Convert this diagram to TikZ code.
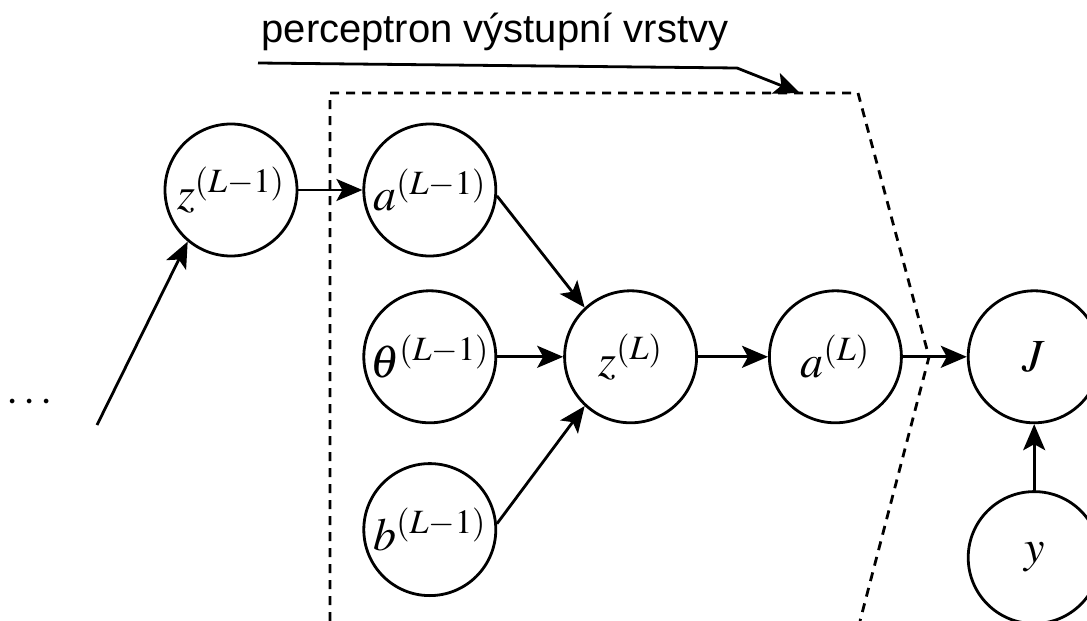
\documentclass[tikz,border=0pt]{standalone}
\usepackage[no-math]{fontspec}
\newfontfamily\labelfont{Liberation Sans}
\usepackage{mathptmx}
\usepackage{tikz}
\usetikzlibrary{arrows.meta,positioning}

\begin{document}
\begin{tikzpicture}[
  x=0.5pt,y=-0.5pt,
  neuron/.style={draw,circle,line width=1.4pt,minimum size=66pt,inner sep=0pt,
                 font=\fontsize{23}{28}\selectfont},
  arr/.style={-{Stealth[length=13pt,width=11pt,inset=3pt]},line width=1.4pt},
  border/.style={dashed,line width=1.4pt,dash pattern=on 4.5pt off 3.5pt},
  node distance=33pt
]
\useasboundingbox (0,0) rectangle (1087,621);
% vstupni cast
\node[neuron] (zprev) at (231,190) {$z^{(L-1)}$};
\node[neuron,right=32pt of zprev] (aprev) {$a^{(L-1)}$};
\node[neuron,below=16pt of aprev] (theta) {$\theta^{(L-1)}$};
\node[neuron,below=19pt of theta] (bprev) {$b^{(L-1)}$};
\node[neuron,right=33pt of theta] (zL) {$z^{(L)}$};
\node[neuron,right=35pt of zL] (aL) {$a^{(L)}$};
\node[neuron,right=32pt of aL] (J) {$J$};
\node[neuron,below=33pt of J] (y) {$y$};
\node[font=\fontsize{22}{26}\selectfont] (dots) at (30,403) {$\cdots$};
\coordinate (tail) at (97,425);
% hranice perceptronu
\coordinate (bl) at (330,621);
\coordinate (tl) at (330,93);
\coordinate (tr) at (858,93);
\coordinate (mid) at (929,357);
\coordinate (br) at (860,621);
\draw[border] (bl) -- (tl) -- (tr) -- (mid) -- (br);
% popisek
\node[font=\labelfont\fontsize{20}{24}\selectfont] (title) at (495,32) {perceptron výstupní vrstvy};
\coordinate (ptrstart) at (258,63);
\coordinate (ptrbend) at (737,68);
\coordinate (ptr) at (800,93);
\draw[arr] (ptrstart) -- (ptrbend) -- (ptr);
% spoje
\draw[arr] (tail) -- (zprev.230);
\draw[arr] (zprev) -- (aprev);
\draw[arr] (aprev.-5) -- (zL.133);
\draw[arr] (theta) -- (zL);
\draw[arr] (bprev.5) -- (zL.-133);
\draw[arr] (zL) -- (aL);
\draw[arr] (aL) -- (J);
\draw[arr] (y) -- (J);
\end{tikzpicture}
\end{document}
